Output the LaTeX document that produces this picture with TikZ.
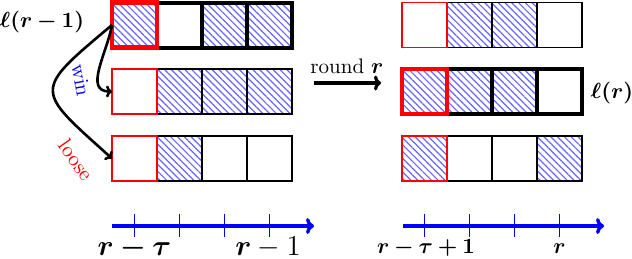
\documentclass[tikz,border=0pt]{standalone}
\usepackage{amsmath,bm}
\usetikzlibrary{patterns.meta,arrows.meta}
\begin{document}
\begin{tikzpicture}[x=0.5pt,y=-0.5pt,
  cell/.style={rectangle,minimum width=22.5pt,minimum height=22.5pt,inner sep=0pt,outer sep=0pt,draw=black,line width=0.6pt},
  thickcell/.style={cell,line width=2pt},
  redcell/.style={cell,draw=red,line width=0.7pt},
  redthick/.style={cell,draw=red,line width=2.4pt},
  hatch/.style={pattern={Lines[angle=-45,distance=2.4pt,line width=0.6pt]},pattern color=blue!60},
  numline/.style={draw=blue,line width=1.7pt,-{To[length=4pt,width=8pt]}},
  tick/.style={draw=blue,line width=0.6pt},
  conn/.style={draw=black,line width=1.3pt,-{To[length=3pt,width=6pt]}},
  lab/.style={inner sep=0pt},
]
\useasboundingbox (0,0) rectangle (632,258);
% ---------- left block ----------
% row 1 (thick)
\node[thickcell] (a2) at (179.5,25) {};
\node[thickcell,hatch] (a3) at (224.5,25) {};
\node[thickcell,hatch] (a4) at (269.5,25) {};
\node[redthick,hatch] (a1) at (134.5,25) {};
% row 2
\node[cell,hatch] (b2) at (179.5,91.5) {};
\node[cell,hatch] (b3) at (224.5,91.5) {};
\node[cell,hatch] (b4) at (269.5,91.5) {};
\node[redcell] (b1) at (134.5,91.5) {};
% row 3
\node[cell,hatch] (c2) at (179.5,158.5) {};
\node[cell] (c3) at (224.5,158.5) {};
\node[cell] (c4) at (269.5,158.5) {};
\node[redcell] (c1) at (134.5,158.5) {};
% ---------- right block ----------
% row 1
\node[cell,hatch] (d2) at (469.5,25) {};
\node[cell,hatch] (d3) at (514.5,25) {};
\node[cell] (d4) at (559.5,25) {};
\node[redcell] (d1) at (424.5,25) {};
% row 2 (thick)
\node[thickcell,hatch] (e2) at (469.5,91.5) {};
\node[thickcell,hatch] (e3) at (514.5,91.5) {};
\node[thickcell] (e4) at (559.5,91.5) {};
\node[redthick,hatch] (e1) at (424.5,91.5) {};
% row 3
\node[cell] (f2) at (469.5,158.5) {};
\node[cell] (f3) at (514.5,158.5) {};
\node[cell,hatch] (f4) at (559.5,158.5) {};
\node[redcell,hatch] (f1) at (424.5,158.5) {};
% ---------- labels ----------
\node[lab] (lr1) at (42,22) {\fontsize{10.5}{12}\selectfont$\boldsymbol{\ell(r-1)}$};
\node[lab] (lr) at (612,93) {\fontsize{10.5}{12}\selectfont$\boldsymbol{\ell(r)}$};
\node[lab,anchor=base] (round) at (347,73) {\fontsize{10.5}{12}\selectfont round $\boldsymbol{r}$};
\coordinate (rs) at (314,83);
\coordinate (re) at (381,83);
\draw[line width=1.6pt,-{To[length=3.5pt,width=7.5pt]}] (rs) -- (re);
% ---------- win / loose ----------
\draw[conn] (a1.west) to[out=-100,in=180,looseness=1.1] (b1.west);
\draw[conn] (a1.west) to[out=-140,in=138,looseness=2] (c1.west);
\node[lab,text=blue,rotate=-80] (win) at (81,80) {\fontsize{10.5}{12}\selectfont win};
\node[lab,text=red,rotate=-55] (loose) at (76,160) {\fontsize{10.5}{12}\selectfont loose};
% ---------- number lines ----------
\coordinate (ls) at (112,226);
\coordinate (le) at (314,226);
\draw[numline] (ls) -- (le);
\foreach \x in {134.5,179.5,224.5,269.5} \draw[tick] (\x,214) -- (\x,237);
\coordinate (rs2) at (403,226);
\coordinate (re2) at (604,226);
\draw[numline] (rs2) -- (re2);
\foreach \x in {424.5,469.5,514.5,559.5} \draw[tick] (\x,214) -- (\x,237);
\node[lab,anchor=base] (t1) at (134.5,255) {\fontsize{13.5}{15}\selectfont$\boldsymbol{r-\tau}$};
\node[lab,anchor=base] (t2) at (268,255) {\fontsize{13.5}{15}\selectfont$\boldsymbol{r}-1$};
\node[lab,anchor=base] (t3) at (426,253) {\fontsize{10.5}{12}\selectfont$\boldsymbol{r-\tau+1}$};
\node[lab,anchor=base] (t4) at (559.5,253) {\fontsize{10.5}{12}\selectfont$\boldsymbol{r}$};
\end{tikzpicture}
\end{document}
